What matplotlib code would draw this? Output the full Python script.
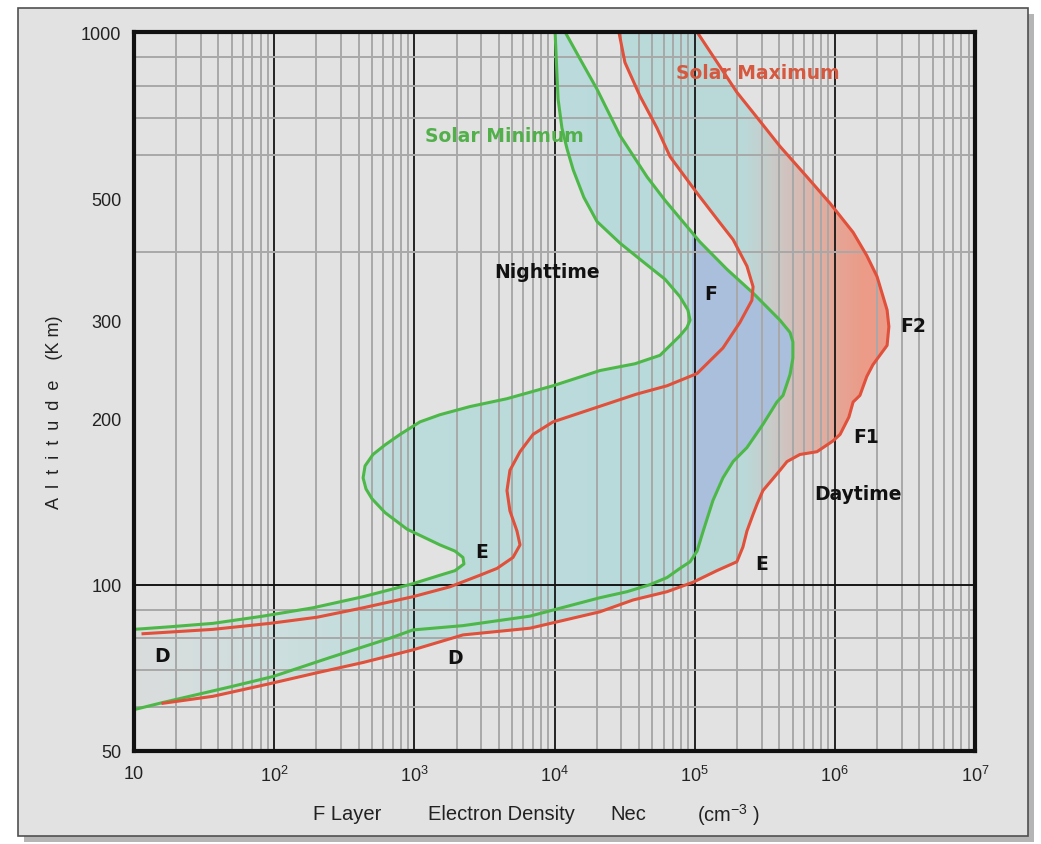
import numpy as np
import matplotlib.pyplot as plt
from matplotlib.colors import LinearSegmentedColormap, Normalize
from matplotlib.patches import Rectangle
from matplotlib.ticker import FixedLocator, LogLocator, NullFormatter, FuncFormatter

# electron density profiles: altitude (km), density (cm^-3)
min_night_alt = [1000, 891, 757, 670, 614, 563, 502, 454, 415, 384, 357, 332, 314, 301, 292, 282,
                 260, 251, 244, 229, 217, 210, 203, 197, 187, 179, 172, 164, 156, 149, 143, 135,
                 126, 118, 115, 112, 109, 106, 104, 100.4, 97.9, 95.1, 90.8, 87.7, 85.1, 83.9, 83.0]
min_night_ne = [1.01e4, 1.03e4, 1.06e4, 1.13e4, 1.23e4, 1.36e4, 1.62e4, 2.01e4, 2.93e4, 4.28e4,
                6.14e4, 7.85e4, 8.95e4, 9.27e4, 8.81e4, 7.85e4, 5.66e4, 3.75e4, 2.11e4, 9750,
                4581, 2495, 1524, 1096, 791, 618, 507, 445, 431, 452, 499, 618, 887, 1524, 1950,
                2223, 2259, 1950, 1524, 977, 670, 431, 189, 83.2, 36.6, 18.1, 10]

min_day_alt = [1000, 881, 788, 650, 547, 496, 417, 372, 337, 301, 286, 275, 257, 240, 220,
               214, 195, 177, 167, 156, 142, 125, 115, 110, 107, 103, 100, 97.1, 94.7, 87.7, 84.3,
               82.8, 80.0, 73.8, 68.2, 65.3, 61.2, 59.4]
min_day_ne = [1.19e4, 1.57e4, 2.01e4, 2.93e4, 4.57e4, 6.14e4, 1.09e5, 1.70e5, 2.61e5,
              4.06e5, 4.79e5, 5.02e5, 5.02e5, 4.79e5, 4.27e5, 3.86e5, 3.07e5, 2.36e5, 1.88e5,
              1.59e5, 1.35e5, 1.15e5, 1.04e5, 9.27e4, 7.85e4, 6.35e4, 4.80e4, 3.29e4, 2.11e4,
              6683, 2223, 977, 670, 250, 98.2, 48.4, 16.1, 10]

max_night_alt = [1000, 881, 766, 670, 595, 511, 452, 421, 377, 346, 327, 298, 268, 241, 229, 221,
                 197, 187, 174, 161, 148, 136, 125, 118, 112, 107, 104, 99.1, 95.1, 90.8, 87.3,
                 85.1, 83.0, 81.5]
max_night_ne = [2.88e4, 3.18e4, 4.07e4, 5.39e4, 6.67e4, 1.04e5, 1.51e5, 1.88e5, 2.36e5, 2.61e5,
                2.56e5, 2.10e5, 1.59e5, 1.04e5, 6.35e4, 3.81e4, 9750, 7030, 5675, 4808, 4581,
                4808, 5400, 5675, 5058, 3890, 2938, 1795, 977, 431, 202, 93.3, 36.6, 11.6]

max_day_alt = [1000, 867, 778, 690, 621, 547, 490, 434, 394, 361, 314, 293, 271, 250, 238, 220,
               214, 201, 187, 182, 174, 172, 167, 161, 148, 140, 134, 125, 117, 110, 106, 101,
               97.1, 93.8, 89.3, 83.4, 81.1, 76.2, 72.3, 69.0, 66.2, 62.8, 61.0]
max_day_ne = [1.04e5, 1.51e5, 2.00e5, 2.92e5, 4.06e5, 6.32e5, 9.23e5, 1.35e6, 1.69e6, 2.00e6,
              2.36e6, 2.43e6, 2.36e6, 1.87e6, 1.69e6, 1.51e6, 1.35e6, 1.26e6, 1.09e6, 9.70e5,
              7.46e5, 5.64e5, 4.56e5, 4.06e5, 3.07e5, 2.79e5, 2.61e5, 2.36e5, 2.21e5, 2.00e5,
              1.44e5, 9.73e4, 6.35e4, 3.63e4, 2.11e4, 6683, 2223, 977, 431, 189, 93.3, 36.6, 16.1]

x_ticks = [1e1, 1e2, 1e3, 1e4, 1e5, 1e6, 1e7]
y_ticks = [50, 100, 200, 300, 500, 1000]

# text labels: (text, density, altitude)
layer_labels = [('Nighttime', 8.8e3, 369), ('F', 1.31e5, 337), ('F2', 3.6e6, 294),
                ('F1', 1.67e6, 185), ('Daytime', 1.46e6, 146), ('E', 3.04e3, 115),
                ('E', 3.0e5, 109), ('D', 15.8, 74.5), ('D', 1.95e3, 73.8)]

BG = '#e2e2e2'
GREEN = '#4db848'
RED = '#e0503a'

plt.rcParams['font.family'] = ['Liberation Sans', 'DejaVu Sans']

fig = plt.figure(figsize=(10.41, 8.45), dpi=100, facecolor='white')
# framed panel with a drop shadow
fig.patches.append(Rectangle((24 / 1041, 2 / 845), 1010 / 1041, 828 / 845, transform=fig.transFigure,
                             facecolor='#b5b5b5', edgecolor='none', zorder=-2))
fig.patches.append(Rectangle((18 / 1041, 8 / 845), 1010 / 1041, 828 / 845, transform=fig.transFigure,
                             facecolor=BG, edgecolor='#505050', lw=1.2, zorder=-1))

ax = fig.add_axes([134 / 1041, 1 - 752 / 845, 841 / 1041, 719 / 845])
ax.set_facecolor(BG)
ax.set_xscale('log')
ax.set_yscale('log')
ax.set_xlim(10, 1e7)
ax.set_ylim(50, 1000)

green_cmap = LinearSegmentedColormap.from_list('gband', [
    (0.0, '#dadcdc'), (1 / 6, '#cddede'), (2 / 6, '#bcdbdb'),
    (3.98 / 6, '#b8dadb'), (4.0 / 6, '#a9bfdc'), (1.0, '#a9bfdc')])
red_cmap = LinearSegmentedColormap.from_list('rband', [
    (0.0, '#dadcdc'), (1 / 6, '#cddede'), (2 / 6, '#bcdbdb'),
    (4.35 / 6, '#b9d9d9'), (4.65 / 6, '#cfc4c0'), (4.95 / 6, '#e2aa9c'),
    (5.2 / 6, '#eb9b88'), (1.0, '#eb9b88')])


def band_fill(ne_a, alt_a, ne_b, alt_b, cmap):
    px = list(ne_a) + list(ne_b)[::-1]
    py = list(alt_a) + list(alt_b)[::-1]
    patch = ax.fill(px, py, facecolor='none', edgecolor='none')[0]
    edges = np.logspace(1, 7, 601)
    centers = np.log10(np.sqrt(edges[:-1] * edges[1:]))
    mesh = ax.pcolormesh(edges, [50, 1000], centers[None, :], cmap=cmap,
                         norm=Normalize(1, 7), shading='flat', zorder=1)
    mesh.set_clip_path(patch)


band_fill(max_night_ne, max_night_alt, max_day_ne, max_day_alt, red_cmap)
band_fill(min_night_ne, min_night_alt, min_day_ne, min_day_alt, green_cmap)

for ne, alt, c in [(min_night_ne, min_night_alt, GREEN), (min_day_ne, min_day_alt, GREEN),
                   (max_night_ne, max_night_alt, RED), (max_day_ne, max_day_alt, RED)]:
    ax.plot(ne, alt, color=c, lw=2.2, zorder=3, solid_joinstyle='round')

# grid
ax.set_axisbelow(False)
ax.xaxis.set_major_locator(FixedLocator(x_ticks))
ax.xaxis.set_minor_locator(LogLocator(base=10, subs=np.arange(2, 10), numticks=20))
ax.xaxis.set_minor_formatter(NullFormatter())
ax.xaxis.set_major_formatter(FuncFormatter(
    lambda v, p: '10' if v < 11 else r'$\mathregular{10^{%d}}$' % round(np.log10(v))))
ax.yaxis.set_major_locator(FixedLocator(y_ticks))
ax.yaxis.set_major_formatter(FuncFormatter(lambda v, p: '%d' % v))
ax.yaxis.set_minor_locator(LogLocator(base=10, subs=np.arange(1, 10), numticks=20))
ax.yaxis.set_minor_formatter(NullFormatter())

ax.grid(True, axis='x', which='minor', color='#a8a8a8', lw=1.4)
ax.grid(True, axis='x', which='major', color='#151515', lw=1.3)
ax.grid(True, axis='y', which='minor', color='#a8a8a8', lw=1.4)
ax.axhline(100, color='#151515', lw=1.4, zorder=2.6)

ax.tick_params(which='both', length=0)
ax.tick_params(axis='y', pad=9, labelsize=13, labelcolor='#222222')
ax.tick_params(axis='x', pad=10, labelsize=13, labelcolor='#222222')
for s in ax.spines.values():
    s.set_linewidth(3)
    s.set_color('#111111')
    s.set_zorder(4)

ax.text(4.4e3, 650, 'Solar Minimum', color='#52b04a', fontsize=13.5, fontweight='bold',
        family='DejaVu Sans', ha='center', va='center', zorder=5)
ax.text(2.8e5, 845, 'Solar Maximum', color='#d6583e', fontsize=13.5, fontweight='bold',
        family='DejaVu Sans', ha='center', va='center', zorder=5)
for txt, x, y in layer_labels:
    ax.text(x, y, txt, color='#111111', fontsize=13.5, fontweight='bold',
            family='DejaVu Sans', ha='center', va='center', zorder=5)

# axis titles, placed piece by piece like the original
for txt, xp in [('F Layer', 313), ('Electron Density', 428), ('Nec', 610),
                (r'(cm$\mathregular{^{-3}}$ )', 697)]:
    fig.text(xp / 1041, 1 - 815 / 845, txt, ha='left', va='center', fontsize=14.5, color='#222222')
fig.text(55 / 1041, 1 - 412 / 845, 'A  l  t  i  t  u  d  e    (K m)', rotation=90,
         ha='center', va='center', fontsize=13, color='#222222')

fig.savefig('out.png', dpi=100, facecolor='white')
